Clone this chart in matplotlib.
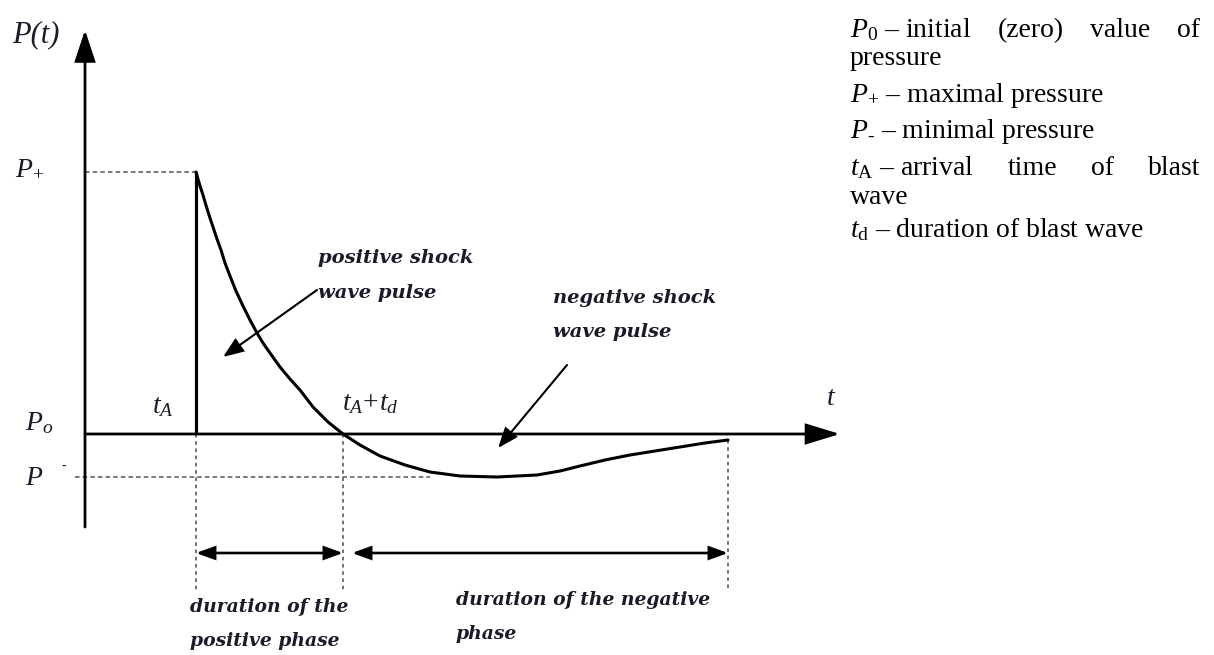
import matplotlib
matplotlib.use("Agg")
import matplotlib.pyplot as plt
from matplotlib.patches import FancyArrowPatch

plt.rcParams['font.family'] = ['Liberation Serif', 'DejaVu Serif']
plt.rcParams['mathtext.fontset'] = 'custom'
plt.rcParams['mathtext.rm'] = 'Liberation Serif'
plt.rcParams['mathtext.it'] = 'Liberation Serif:italic'
plt.rcParams['mathtext.bf'] = 'Liberation Serif:bold'

# ---------------- data (schematic units: 1 unit = 100 px) ----------------
t_A = 1.11            # arrival time
t_A_td = 2.58         # end of positive phase (t_A + t_d)
t_neg_end = 6.43      # end of negative phase
P_0 = 0.0
P_plus = 2.62
P_minus = -0.43

t_curve = [1.11, 1.13, 1.15, 1.18, 1.20, 1.24, 1.28, 1.32, 1.36, 1.40, 1.45,
           1.51, 1.58, 1.65, 1.72, 1.78, 1.85, 1.95, 2.05, 2.15, 2.28, 2.43,
           2.58, 2.75, 2.95, 3.20, 3.45, 3.75, 4.12, 4.52, 4.75, 4.95, 5.20,
           5.45, 5.70, 5.95, 6.20, 6.43]
p_curve = [2.62, 2.55, 2.48, 2.39, 2.32, 2.19, 2.07, 1.95, 1.84, 1.71, 1.58,
           1.43, 1.28, 1.14, 1.01, 0.91, 0.81, 0.67, 0.55, 0.44, 0.27, 0.12,
           0.00, -0.11, -0.22, -0.31, -0.38, -0.42, -0.43, -0.41, -0.37, -0.32,
           -0.26, -0.21, -0.17, -0.13, -0.09, -0.06]

axis_t_end = 7.55
axis_p_top = 4.04
axis_p_bottom = -0.93
dim_level = -1.19
dim_bottom = -1.56

legend_lines = [
    (["$P_0$ – initial", "(zero)", "value", "of"], True),
    (["pressure"], False),
    (["$P_{\\text{+}}$ – maximal pressure"], False),
    (["$P_{\\text{-}}$ – minimal pressure"], False),
    (["$t_\\mathrm{A}$ – arrival", "time", "of", "blast"], True),
    (["wave"], False),
    (["$t_\\mathrm{d}$ – duration of blast wave"], False),
]
legend_baselines = [37, 65, 102, 138, 175, 204, 237]

W, H = 1214, 655
fig = plt.figure(figsize=(W / 100, H / 100), dpi=100)
ax = fig.add_axes([0, 0, 1, 1])
ax.set_xlim(-0.85, 11.29)
ax.set_ylim(-2.21, 4.34)
ax.axis('off')

K = 'black'
DASH = '#555555'
TXT = '#1a1a2a'


def fx(px):
    return px / W


def fy(py):
    return 1 - py / H


def arrow(p0, p1, style, lw, ms=20, color=K, z=3):
    a = FancyArrowPatch(p0, p1, arrowstyle=style, mutation_scale=ms, lw=lw,
                        color=color, shrinkA=0, shrinkB=0, zorder=z,
                        joinstyle='miter')
    ax.add_patch(a)


# axes with arrows
arrow((0, axis_p_bottom), (0, axis_p_top), '-|>,head_length=0.97,head_width=0.32', 2.0)
arrow((0, P_0), (axis_t_end, P_0), '-|>,head_length=1.05,head_width=0.32', 2.0)

# dashed reference levels
ax.plot([0, t_A], [P_plus, P_plus], ls=(0, (3, 2)), color=DASH, lw=1.1)
ax.plot([-0.10, 3.45], [P_minus, P_minus], ls=(0, (3, 2)), color=DASH, lw=1.1)

# vertical dotted lines
for tv, top in [(t_A, P_0), (t_A_td, P_0), (t_neg_end, p_curve[-1])]:
    ax.plot([tv, tv], [top, dim_bottom], ls=(0, (2, 2)), color='#666666', lw=1.3)

# pressure curve
ax.plot([t_A, t_A], [P_0, P_plus], color=K, lw=2.3, solid_capstyle='butt')
ax.plot(t_curve, p_curve, color=K, lw=2.2, solid_joinstyle='round',
        solid_capstyle='round')

# duration arrows
arrow((t_A, dim_level), (t_A_td, dim_level), '<|-|>,head_length=0.55,head_width=0.2', 1.9)
arrow((t_A_td + 0.09, dim_level), (t_neg_end, dim_level),
      '<|-|>,head_length=0.55,head_width=0.2', 1.9)

# pointer arrows
arrow((2.32, 1.44), (1.38, 0.77), '-|>,head_length=0.62,head_width=0.24', 1.5)
arrow((4.82, 0.69), (4.13, -0.14), '-|>,head_length=0.62,head_width=0.24', 1.5)

# axis labels
lab = dict(color=TXT, ha='left', va='baseline')
fig.text(fx(12), fy(42), "P(t)", fontsize=22, style='italic', **lab)
fig.text(fx(15), fy(175), "$P_{\\text{+}}$", fontsize=20, **lab)
fig.text(fx(25), fy(430), "$P_o$", fontsize=20, **lab)
fig.text(fx(25), fy(485), "$P$", fontsize=20, **lab)
fig.text(fx(61), fy(470), "-", fontsize=10, **lab)
fig.text(fx(152), fy(413), "$t_A$", fontsize=20, **lab)
fig.text(fx(342), fy(410), "$t_A\\!+\\!t_d$", fontsize=20, **lab)
fig.text(fx(826), fy(405), "$t$", fontsize=20, **lab)

# annotations
ann = dict(color=TXT, ha='left', va='baseline', family='DejaVu Serif',
           style='italic', weight='bold', fontsize=14)
fig.text(fx(318), fy(263), "positive shock", **ann)
fig.text(fx(318), fy(298), "wave pulse", **ann)
fig.text(fx(553), fy(303), "negative shock", **ann)
fig.text(fx(553), fy(337), "wave pulse", **ann)
ann['fontsize'] = 13.5
fig.text(fx(190), fy(612), "duration of the", **ann)
fig.text(fx(190), fy(646), "positive phase", **ann)
fig.text(fx(456), fy(605), "duration of the negative", **ann)
fig.text(fx(456), fy(639), "phase", **ann)

# right-hand legend (justified lines)
renderer = fig.canvas.get_renderer()
X0, X1 = 850, 1200
for (words, just), base in zip(legend_lines, legend_baselines):
    texts = [fig.text(0, fy(base), w, fontsize=20, color='black',
                      ha='left', va='baseline') for w in words]
    widths = [t.get_window_extent(renderer).width for t in texts]
    if just and len(words) > 1:
        gap = (X1 - X0 - sum(widths)) / (len(words) - 1)
    else:
        gap = 0
    x = X0
    for t, w in zip(texts, widths):
        t.set_x(fx(x))
        x += w + gap

fig.savefig("out.png", dpi=100)
